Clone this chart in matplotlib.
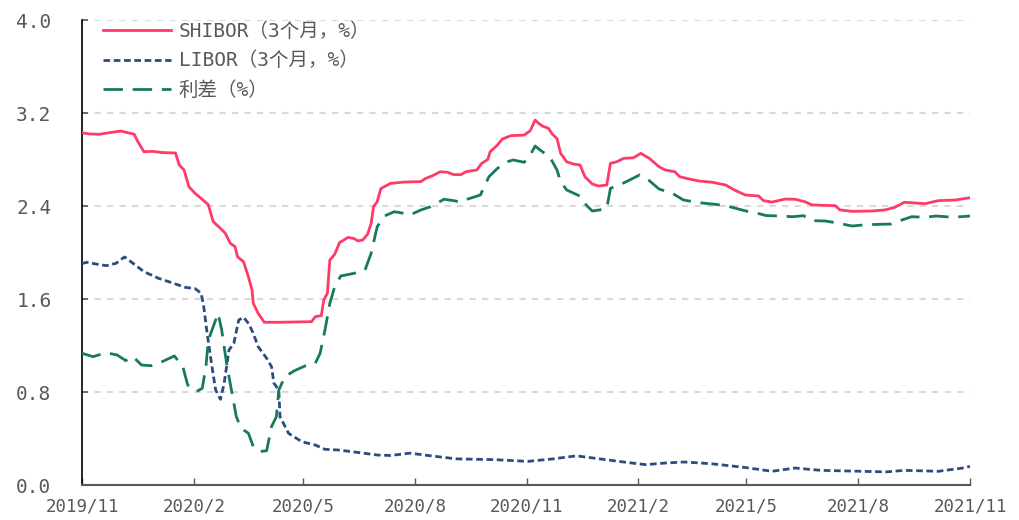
import matplotlib
matplotlib.use("Agg")
import matplotlib.pyplot as plt
import matplotlib.dates as mdates
import pandas as pd

plt.rcParams['font.family'] = ['DejaVu Sans Mono', 'Noto Sans CJK SC']

shibor_dates = ["2019-11-01","2019-11-07","2019-11-15","2019-11-23","2019-12-03","2019-12-14","2019-12-17","2019-12-22","2019-12-29",
    "2020-01-06","2020-01-17","2020-01-20","2020-01-24","2020-01-28","2020-02-02","2020-02-07","2020-02-13","2020-02-17","2020-02-23",
    "2020-02-27","2020-03-02","2020-03-06","2020-03-08","2020-03-13","2020-03-17","2020-03-20","2020-03-21","2020-03-25","2020-03-30",
    "2020-04-11","2020-05-08","2020-05-11","2020-05-16","2020-05-18","2020-05-21","2020-05-23","2020-05-27","2020-05-31","2020-06-07",
    "2020-06-12","2020-06-15","2020-06-19","2020-06-23","2020-06-26","2020-06-28","2020-07-01","2020-07-04","2020-07-12","2020-07-23",
    "2020-08-06","2020-08-10","2020-08-15","2020-08-22","2020-08-28","2020-09-02","2020-09-08","2020-09-12","2020-09-21","2020-09-25",
    "2020-09-30","2020-10-02","2020-10-08","2020-10-12","2020-10-19","2020-10-30","2020-11-04","2020-11-08","2020-11-11","2020-11-14",
    "2020-11-19","2020-11-22","2020-11-26","2020-11-29","2020-12-04","2020-12-10","2020-12-15","2020-12-19","2020-12-25","2020-12-30",
    "2021-01-06","2021-01-09","2021-01-14","2021-01-20","2021-01-28","2021-02-03","2021-02-10","2021-02-18","2021-02-23","2021-03-03",
    "2021-03-07","2021-03-15","2021-03-23","2021-04-03","2021-04-14","2021-04-21","2021-04-30","2021-05-11","2021-05-15","2021-05-22",
    "2021-06-02","2021-06-10","2021-06-18","2021-06-24","2021-07-02","2021-07-13","2021-07-17","2021-07-27","2021-08-12","2021-08-23",
    "2021-08-31","2021-09-08","2021-09-17","2021-09-25","2021-10-06","2021-10-20","2021-11-01"]
shibor = [3.03,3.02,3.017,3.03,3.045,3.017,2.953,2.867,2.87,
    2.86,2.856,2.753,2.71,2.566,2.51,2.466,2.41,2.265,2.208,
    2.165,2.08,2.05,1.964,1.92,1.79,1.677,1.563,1.477,1.40,
    1.40,1.405,1.448,1.457,1.59,1.65,1.935,1.985,2.085,2.13,
    2.12,2.10,2.107,2.156,2.25,2.394,2.437,2.55,2.595,2.606,
    2.61,2.638,2.658,2.695,2.69,2.67,2.67,2.695,2.71,2.767,
    2.80,2.867,2.925,2.976,3.005,3.01,3.048,3.14,3.11,3.088,
    3.068,3.02,2.98,2.853,2.78,2.76,2.753,2.652,2.59,2.572,
    2.58,2.767,2.78,2.81,2.815,2.853,2.81,2.738,2.71,2.695,
    2.652,2.632,2.615,2.604,2.58,2.538,2.495,2.486,2.446,2.434,
    2.46,2.458,2.437,2.41,2.406,2.403,2.366,2.354,2.357,2.366,
    2.389,2.432,2.426,2.42,2.446,2.452,2.471]

libor_dates = ["2019-11-01","2019-11-05","2019-11-13","2019-11-21","2019-11-29","2019-12-06","2019-12-13","2019-12-22","2020-01-03",
    "2020-01-14","2020-01-25","2020-02-02","2020-02-07","2020-02-09","2020-02-12","2020-02-16","2020-02-19","2020-02-23","2020-02-26",
    "2020-03-01","2020-03-05","2020-03-09","2020-03-13","2020-03-17","2020-03-21","2020-03-25","2020-04-01","2020-04-05","2020-04-07",
    "2020-04-11","2020-04-12","2020-04-19","2020-04-30","2020-05-11","2020-05-19","2020-05-30","2020-06-10","2020-06-21","2020-07-01",
    "2020-07-12","2020-07-28","2020-08-14","2020-09-04","2020-10-06","2020-11-02","2020-11-23","2020-12-12","2020-12-31","2021-01-22",
    "2021-02-07","2021-02-23","2021-03-11","2021-04-02","2021-04-29","2021-05-22","2021-06-10","2021-07-01","2021-08-03","2021-08-24",
    "2021-09-08","2021-10-06","2021-10-26","2021-11-01"]
libor = [1.905,1.916,1.90,1.887,1.907,1.962,1.907,1.835,1.778,
    1.74,1.70,1.69,1.65,1.55,1.305,1.018,0.817,0.737,0.875,
    1.161,1.219,1.419,1.443,1.39,1.305,1.19,1.09,1.018,0.875,
    0.817,0.588,0.445,0.372,0.344,0.307,0.301,0.287,0.272,0.258,
    0.254,0.274,0.251,0.225,0.218,0.203,0.225,0.251,0.225,0.195,
    0.175,0.189,0.198,0.183,0.152,0.118,0.146,0.126,0.118,0.113,
    0.126,0.118,0.146,0.16]

spread_dates = ["2019-11-01","2019-11-10","2019-11-21","2019-11-30","2019-12-07","2019-12-13","2019-12-20","2019-12-28","2020-01-06",
    "2020-01-16","2020-01-23","2020-01-27","2020-02-03","2020-02-08","2020-02-11","2020-02-13","2020-02-17","2020-02-21","2020-02-24",
    "2020-02-28","2020-03-03","2020-03-07","2020-03-11","2020-03-17","2020-03-21","2020-03-26","2020-04-01","2020-04-05","2020-04-09",
    "2020-04-11","2020-04-16","2020-04-24","2020-05-03","2020-05-11","2020-05-15","2020-05-19","2020-05-23","2020-05-27","2020-06-01",
    "2020-06-12","2020-06-21","2020-06-26","2020-07-01","2020-07-07","2020-07-15","2020-07-23","2020-07-28","2020-08-06","2020-08-14",
    "2020-08-25","2020-09-02","2020-09-08","2020-09-13","2020-09-24","2020-09-27","2020-10-01","2020-10-08","2020-10-16","2020-10-21",
    "2020-10-30","2020-11-04","2020-11-08","2020-11-12","2020-11-20","2020-11-26","2020-11-29","2020-12-04","2020-12-10","2020-12-16",
    "2020-12-20","2020-12-25","2020-12-31","2021-01-06","2021-01-09","2021-01-16","2021-01-22","2021-02-02","2021-02-10","2021-02-18",
    "2021-03-01","2021-03-10","2021-03-23","2021-04-03","2021-04-14","2021-04-25","2021-05-03","2021-05-11","2021-05-17","2021-05-28",
    "2021-06-08","2021-06-17","2021-06-24","2021-07-05","2021-07-16","2021-07-27","2021-08-07","2021-08-20","2021-08-28","2021-09-06",
    "2021-09-14","2021-09-25","2021-10-04","2021-10-18","2021-11-01"]
spread = [1.133,1.104,1.138,1.118,1.07,1.104,1.032,1.026,1.061,
    1.11,1.018,0.86,0.803,0.832,1.018,1.247,1.362,1.477,1.333,
    1.047,0.817,0.588,0.488,0.445,0.33,0.287,0.295,0.502,0.588,
    0.817,0.932,0.984,1.026,1.047,1.133,1.333,1.563,1.706,1.798,
    1.821,1.85,1.993,2.222,2.314,2.351,2.337,2.323,2.366,2.394,
    2.458,2.446,2.434,2.458,2.495,2.566,2.652,2.724,2.781,2.796,
    2.776,2.839,2.916,2.882,2.824,2.71,2.609,2.538,2.509,2.48,
    2.409,2.357,2.366,2.38,2.552,2.58,2.609,2.667,2.618,2.546,
    2.509,2.452,2.428,2.417,2.403,2.372,2.351,2.335,2.318,2.314,
    2.308,2.317,2.274,2.271,2.251,2.228,2.239,2.243,2.245,2.28,
    2.308,2.303,2.314,2.303,2.314]

labels = ["SHIBOR（3个月，%）", "LIBOR（3个月，%）", "利差（%）"]
colors = ["#FF3A68", "#2B4C7E", "#177A5C"]
yticks = [0.0, 0.8, 1.6, 2.4, 3.2, 4.0]

fig = plt.figure(figsize=(10.2, 5.2), dpi=100)
ax = fig.add_axes([0.0804, 0.0673, 0.8706, 0.8942])

ax.plot(pd.to_datetime(shibor_dates), shibor, color=colors[0], lw=2.0, label=labels[0], zorder=3)
ax.plot(pd.to_datetime(libor_dates), libor, color=colors[1], lw=2.0, linestyle=(0, (2.4, 1.3)), label=labels[1], zorder=3)
ax.plot(pd.to_datetime(spread_dates), spread, color=colors[2], lw=2.0, linestyle=(0, (7, 3.5)), label=labels[2], zorder=3)

ax.set_ylim(0, 4.0)
ax.set_xlim(pd.Timestamp("2019-11-01"), pd.Timestamp("2021-11-01"))
ax.set_yticks(yticks)
ax.set_yticklabels([f"{v:.1f}" for v in yticks])
ax.xaxis.set_major_locator(mdates.MonthLocator(bymonth=[2, 5, 8, 11]))
ax.xaxis.set_major_formatter(mdates.DateFormatter("%Y/%-m"))

ax.grid(axis='y', color='#D9D9D9', linestyle=(0, (3, 3)), linewidth=1.5, zorder=0)
ax.set_axisbelow(True)
for s in ['top', 'right']:
    ax.spines[s].set_visible(False)
ax.spines['left'].set_color('black')
ax.spines['left'].set_linewidth(1.2)
ax.spines['bottom'].set_color('#595959')
ax.spines['bottom'].set_linewidth(1.5)

ax.tick_params(axis='y', direction='in', length=4, width=1.2, color='#595959', labelsize=14, labelcolor='#595959', pad=22)
ax.tick_params(axis='x', direction='in', length=5, width=1.0, color='#595959', labelsize=12.5, labelcolor='#595959', pad=9)

leg = ax.legend(loc='upper left', bbox_to_anchor=(0.004, 1.034), frameon=False, fontsize=14,
                handlelength=3.5, handletextpad=0.4, labelspacing=0.55)
for t in leg.get_texts():
    t.set_color('#595959')

fig.savefig("out.png", dpi=100)
